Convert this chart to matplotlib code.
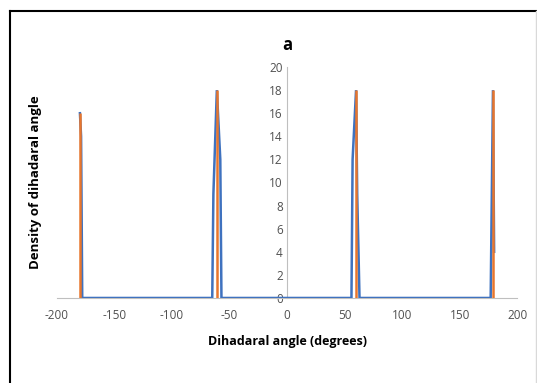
import matplotlib.pyplot as plt
from matplotlib.lines import Line2D

# blue series (sparse points, zero elsewhere)
blue_x = [-180, -179, -178, -65, -64, -61, -58, -57, 56, 57, 60, 61, 63, 177, 179, 180]
blue_y = [16, 14, 0, 0, 9, 18, 12, 0, 0, 12, 18, 9, 0, 0, 18, 4]

# orange series spikes
orange_x = [-180, -61, 60, 179]
orange_y = [16, 18, 18, 18]

x_ticks = [-200, -150, -100, -50, 0, 50, 100, 150, 200]
y_ticks = [0, 2, 4, 6, 8, 10, 12, 14, 16, 18, 20]

plt.rcParams['font.family'] = ['Open Sans', 'DejaVu Sans']
plt.rcParams['axes.unicode_minus'] = False

fig = plt.figure(figsize=(5.37, 3.83), dpi=100)
ax = fig.add_axes([0.106, 0.222, 0.857, 0.603])

ax.plot(blue_x, blue_y, color='#3f72bf', lw=1.8, zorder=3, solid_joinstyle='miter')
ax.vlines(orange_x, 0, orange_y, color='#e8762d', lw=1.8, zorder=4)

ax.set_xlim(-200, 200)
ax.set_ylim(0, 20)
ax.set_xticks(x_ticks)
ax.set_yticks(y_ticks)

for s in ['top', 'right']:
    ax.spines[s].set_visible(False)
ax.spines['left'].set_position(('data', 0))
ax.spines['left'].set_color('#bfbfbf')
ax.spines['bottom'].set_color('#bfbfbf')
ax.tick_params(length=0, labelsize=8.5, colors='#505050', pad=8)
ax.tick_params(axis='y', pad=3)

ax.set_title('a', fontsize=12, fontweight='bold', pad=12)
ax.set_xlabel('Dihadaral angle (degrees)', fontsize=9, fontweight='bold', labelpad=9)
ax.set_ylabel('Density of dihadaral angle', fontsize=9.5, fontweight='bold')
ax.yaxis.set_label_coords(-0.033, 0.5)

# frame around the chart
W, H = 537, 383
fig.add_artist(Line2D([9.5 / W, 9.5 / W], [0, 1 - 10.5 / H], color='black', lw=1.5))
fig.add_artist(Line2D([9.5 / W, 1], [1 - 10.5 / H, 1 - 10.5 / H], color='black', lw=1.5))
fig.add_artist(Line2D([535.5 / W, 535.5 / W], [0, 1 - 10.5 / H], color='#d9d9d9', lw=1))

plt.savefig('out.png', dpi=100)
